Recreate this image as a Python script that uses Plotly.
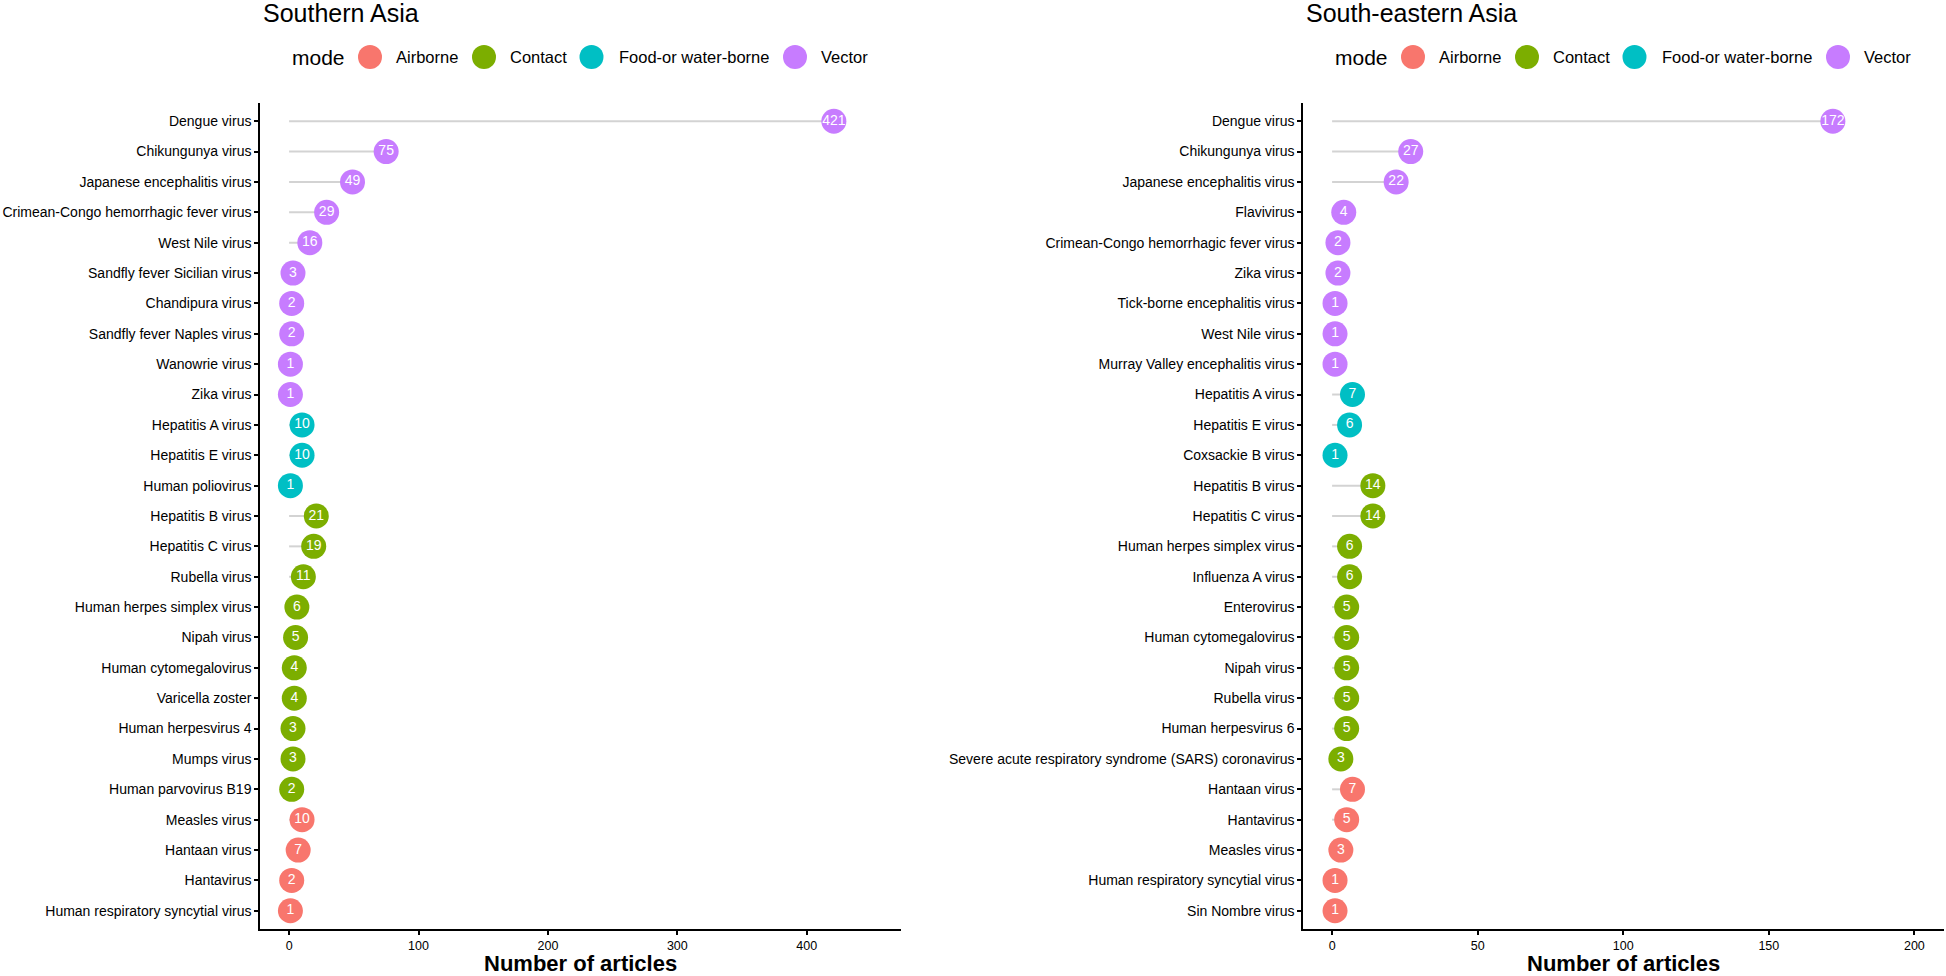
import plotly.graph_objects as go

# ---------------- data ----------------
modes = ["Airborne", "Contact", "Food-or water-borne", "Vector"]
mode_colors = ["#F8766D", "#7CAE00", "#00BFC4", "#C77CFF"]

sa_viruses = ["Dengue virus", "Chikungunya virus", "Japanese encephalitis virus",
              "Crimean-Congo hemorrhagic fever virus", "West Nile virus",
              "Sandfly fever Sicilian virus", "Chandipura virus", "Sandfly fever Naples virus",
              "Wanowrie virus", "Zika virus", "Hepatitis A virus", "Hepatitis E virus",
              "Human poliovirus", "Hepatitis B virus", "Hepatitis C virus", "Rubella virus",
              "Human herpes simplex virus", "Nipah virus", "Human cytomegalovirus",
              "Varicella zoster", "Human herpesvirus 4", "Mumps virus", "Human parvovirus B19",
              "Measles virus", "Hantaan virus", "Hantavirus", "Human respiratory syncytial virus"]
sa_counts = [421, 75, 49, 29, 16, 3, 2, 2, 1, 1, 10, 10, 1, 21, 19, 11, 6, 5, 4, 4, 3, 3, 2,
             10, 7, 2, 1]
sa_modes = ["Vector"] * 10 + ["Food-or water-borne"] * 3 + ["Contact"] * 10 + ["Airborne"] * 4

sea_viruses = ["Dengue virus", "Chikungunya virus", "Japanese encephalitis virus", "Flavivirus",
               "Crimean-Congo hemorrhagic fever virus", "Zika virus",
               "Tick-borne encephalitis virus", "West Nile virus",
               "Murray Valley encephalitis virus", "Hepatitis A virus", "Hepatitis E virus",
               "Coxsackie B virus", "Hepatitis B virus", "Hepatitis C virus",
               "Human herpes simplex virus", "Influenza A virus", "Enterovirus",
               "Human cytomegalovirus", "Nipah virus", "Rubella virus", "Human herpesvirus 6",
               "Severe acute respiratory syndrome (SARS) coronavirus", "Hantaan virus",
               "Hantavirus", "Measles virus", "Human respiratory syncytial virus",
               "Sin Nombre virus"]
sea_counts = [172, 27, 22, 4, 2, 2, 1, 1, 1, 7, 6, 1, 14, 14, 6, 6, 5, 5, 5, 5, 5, 3,
              7, 5, 3, 1, 1]
sea_modes = ["Vector"] * 9 + ["Food-or water-borne"] * 3 + ["Contact"] * 10 + ["Airborne"] * 5

sa_ticks = [0, 100, 200, 300, 400]
sea_ticks = [0, 50, 100, 150, 200]
sa_limits = [0, 450]
sea_limits = [0, 200]

panel_titles = ["Southern Asia", "South-eastern Asia"]
x_title = "Number of articles"
legend_title = "mode"

# ---------------- figure ----------------
W, H = 1946, 976
FONT = "Liberation Sans, Arial, Helvetica, sans-serif"
fig = go.Figure()


def add_panel(viruses, counts, mlist, xa, ya):
    xs, ys = [], []
    for v, c in zip(viruses, counts):
        xs += [0, c, None]
        ys += [v, v, None]
    fig.add_trace(go.Scatter(x=xs, y=ys, mode="lines", xaxis=xa, yaxis=ya,
                             line=dict(color="#d3d3d3", width=2),
                             showlegend=False, hoverinfo="skip"))
    for m, col in zip(modes, mode_colors):
        sel = [i for i, mm in enumerate(mlist) if mm == m]
        fig.add_trace(go.Scatter(
            x=[counts[i] for i in sel], y=[viruses[i] for i in sel],
            mode="markers+text", name=m, showlegend=False,
            xaxis=xa, yaxis=ya,
            marker=dict(color=col, size=25, line=dict(width=0)),
            text=[str(counts[i]) for i in sel],
            textposition="middle center",
            textfont=dict(color="white", size=14, family=FONT),
            cliponaxis=False))


add_panel(sa_viruses, sa_counts, sa_modes, "x", "y")
add_panel(sea_viruses, sea_counts, sea_modes, "x2", "y2")


def expand(lim):
    d = (lim[1] - lim[0]) * 0.05
    return [lim[0] - d, lim[1] + d]


ydom = [1 - 929 / H, 1 - 103 / H]
axis_common = dict(showline=True, linecolor="black", linewidth=1.5, ticks="outside",
                   ticklen=4, tickwidth=1.5, tickcolor="black", showgrid=False,
                   zeroline=False)
xfont = dict(size=12.5, color="black", family=FONT)
yfont = dict(size=14, color="black", family=FONT)

L_LEFT, L_RIGHT = 260, 1303
PW = 640.5

fig.update_layout(
    width=W, height=H,
    margin=dict(l=0, r=0, t=0, b=0),
    plot_bgcolor="white", paper_bgcolor="white",
    font=dict(family=FONT, color="black"),
    showlegend=False,
    xaxis=dict(domain=[L_LEFT / W, (L_LEFT + PW) / W], range=expand(sa_limits),
               tickvals=sa_ticks, anchor="y", tickfont=xfont, **axis_common),
    yaxis=dict(domain=ydom, type="category", categoryorder="array",
               categoryarray=sa_viruses, range=[len(sa_viruses) - 0.4, -0.6],
               anchor="x", tickfont=yfont, **axis_common),
    xaxis2=dict(domain=[L_RIGHT / W, (L_RIGHT + PW) / W], range=expand(sea_limits),
                tickvals=sea_ticks, anchor="y2", tickfont=xfont, **axis_common),
    yaxis2=dict(domain=ydom, type="category", categoryorder="array",
                categoryarray=sea_viruses, range=[len(sea_viruses) - 0.4, -0.6],
                anchor="x2", tickfont=yfont, **axis_common),
)

annotations = []
shapes = []
LEG_Y = 57
circle_off = [79, 193, 300.5, 504]
text_off = [102.5, 217, 325.5, 528]
for left, title in zip((L_LEFT, L_RIGHT), panel_titles):
    # panel title
    annotations.append(dict(text=title, x=(left + 1) / W, y=1 - 13 / H, xref="paper",
                            yref="paper", xanchor="left", yanchor="middle",
                            showarrow=False, font=dict(size=25)))
    # x axis title
    annotations.append(dict(text="<b>" + x_title + "</b>", x=(left + PW / 2) / W, y=0,
                            xref="paper", yref="paper", xanchor="center", yanchor="bottom",
                            yshift=-2, showarrow=False, font=dict(size=22)))
    # legend: circles + labels
    mx = left + 31
    annotations.append(dict(text=legend_title, x=(mx - 1) / W, y=1 - LEG_Y / H, xref="paper",
                            yref="paper", xanchor="left", yanchor="middle", showarrow=False,
                            font=dict(size=21)))
    for m, col, co, to in zip(modes, mode_colors, circle_off, text_off):
        cx = mx + co
        shapes.append(dict(type="circle", xref="paper", yref="paper",
                           x0=(cx - 12) / W, x1=(cx + 12) / W,
                           y0=1 - (LEG_Y + 12) / H, y1=1 - (LEG_Y - 12) / H,
                           fillcolor=col, line=dict(width=0)))
        annotations.append(dict(text=m, x=(mx + to) / W, y=1 - LEG_Y / H, xref="paper",
                                yref="paper", xanchor="left", yanchor="middle",
                                showarrow=False, font=dict(size=16.5)))

fig.update_layout(annotations=annotations, shapes=shapes)

fig.write_html("out.html", config={"displayModeBar": False},
               post_script="document.body.style.margin='0';")
